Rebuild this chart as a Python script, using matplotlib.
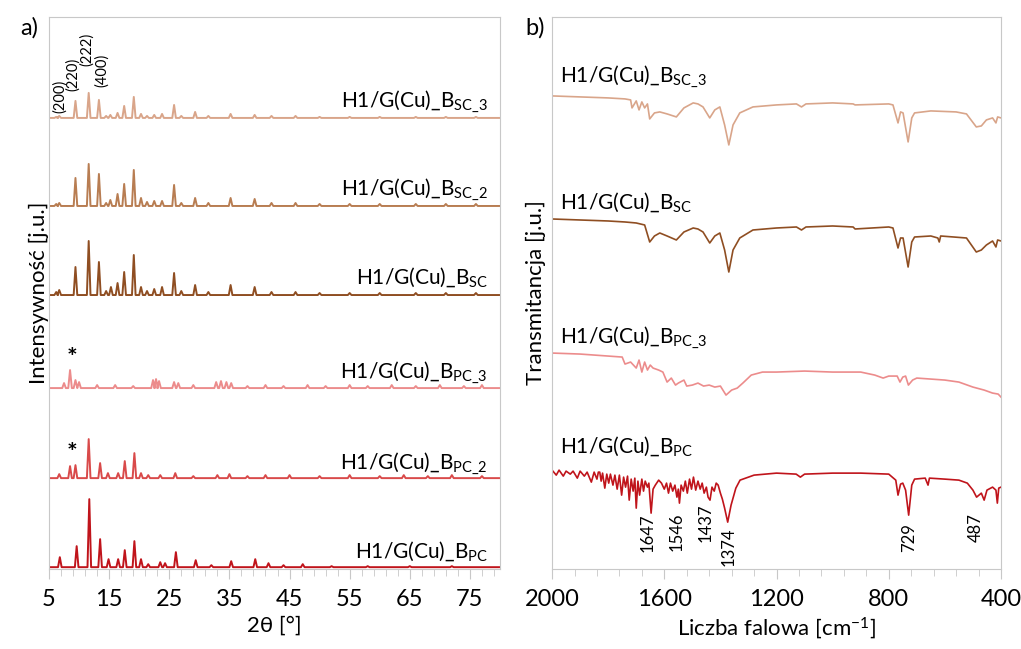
import matplotlib
matplotlib.use("Agg")
import matplotlib.pyplot as plt
from matplotlib.ticker import MultipleLocator, FixedLocator

plt.rcParams['font.family'] = ['Lato', 'DejaVu Sans']
plt.rcParams['mathtext.default'] = 'regular'

# ---------------- XRD (a) ----------------
# peak positions [2theta] and heights (arb. units)
sc3_pos = [6.2, 6.7, 9.4, 11.6, 13.3, 14.5, 15.2, 16.4, 17.5, 19.1, 20.3, 21.3, 22.5, 23.8, 25.8, 27.0,
           29.3, 31.5, 35.2, 39.2, 42.0, 46.0, 50.0, 55.0, 60.0, 66.0, 71.0, 76.0]
sc3_h = [1, 2, 17, 25, 18, 2, 3, 5, 12, 21, 4, 2, 3, 4, 13, 2,
         6, 2, 4, 3, 2, 2, 1, 1, 1, 1, 1, 1]

sc2_pos = [6.2, 6.7, 9.4, 11.6, 13.3, 14.5, 15.2, 16.4, 17.5, 19.1, 20.3, 21.3, 22.5, 23.8, 25.8, 27.0,
           29.3, 31.5, 35.2, 39.2, 42.0, 46.0, 50.0, 55.0, 60.0, 66.0, 71.0, 76.0]
sc2_h = [2, 3, 28, 42, 32, 3, 6, 12, 22, 36, 8, 4, 5, 5, 21, 3,
         8, 3, 8, 7, 3, 3, 2, 2, 2, 2, 2, 2]

sc_pos = [6.2, 6.7, 9.4, 11.6, 13.3, 14.5, 15.3, 16.4, 17.5, 19.1, 20.3, 21.3, 22.5, 23.8, 25.8, 27.0,
          29.3, 31.5, 35.2, 39.2, 42.0, 46.0, 50.0, 55.0, 60.0, 66.0, 71.0, 76.0]
sc_h = [3, 5, 28, 54, 33, 4, 8, 12, 23, 40, 8, 4, 6, 8, 22, 4,
        10, 3, 10, 8, 3, 3, 2, 2, 2, 2, 2, 2]

pc3_pos = [7.5, 8.5, 9.4, 10.0, 13.0, 16.0, 19.0, 22.3, 22.8, 23.3, 25.8, 26.5, 29.0, 32.8, 33.6, 34.5,
           35.3, 38.0, 41.0, 44.0, 48.0, 51.0, 55.0, 58.0, 62.0, 66.0, 70.0, 74.0, 77.0]
pc3_h = [5, 18, 8, 6, 3, 3, 2, 8, 9, 7, 6, 5, 3, 6, 7, 6,
         5, 2, 3, 2, 3, 2, 3, 2, 3, 2, 3, 2, 3]

pc2_pos = [6.7, 8.5, 9.4, 11.6, 13.5, 14.8, 16.5, 17.6, 19.2, 20.3, 21.5, 23.5, 26.0, 29.0, 33.0, 35.0,
           38.0, 41.0, 45.0, 50.0, 55.0, 60.0, 64.0, 68.0, 72.0, 77.0]
pc2_h = [4, 12, 13, 39, 15, 5, 5, 17, 25, 5, 3, 3, 5, 2, 3, 4,
         2, 3, 3, 2, 3, 2, 3, 2, 3, 2]

pc_pos = [6.8, 9.6, 11.7, 13.5, 14.9, 16.5, 17.6, 19.2, 20.3, 21.5, 23.5, 24.3, 26.1, 29.4, 32.0, 35.3,
          39.3, 41.5, 44.0, 47.2, 52.0, 58.0, 65.0, 72.0]
pc_h = [10, 21, 68, 28, 8, 8, 17, 26, 8, 3, 5, 4, 15, 7, 2, 6,
        8, 4, 2, 3, 1, 1, 1, 1]

xrd_offsets = [451, 363, 274, 181, 91, 2]
xrd_names = ['SC\\_3', 'SC\\_2', 'SC', 'PC\\_3', 'PC\\_2', 'PC']
xrd_colors = ['#d9a58a', '#b87d52', '#8f4e22', '#ec8c8c', '#d94a4a', '#c0141b']
xrd_label_y = [462, 374, 285, 191, 101, 11]

miller_labels = ['(200)', '(220)', '(222)', '(400)']
miller_x = [6.8, 9.0, 11.3, 13.8]
miller_y = [473, 495, 520, 499]

# ---------------- FTIR (b) ----------------
sc3_wn = [2000, 1900, 1800, 1740, 1720, 1715, 1700, 1690, 1680, 1670, 1660, 1652, 1635, 1616, 1590, 1557,
          1530, 1497, 1480, 1462, 1438, 1420, 1402, 1385, 1370, 1355, 1331, 1284, 1200, 1129, 1111, 1095,
          1000, 927, 920, 800, 785, 767, 758, 749, 731, 718, 708, 650, 560, 523, 488, 470, 452, 430, 418,
          412, 400]
sc3_t = [473, 472, 471, 470, 469, 461, 468, 459, 467, 461, 465, 450, 456, 457, 455, 452,
         461, 466, 465, 462, 451, 459, 462, 444, 424, 444, 456, 462, 464, 465, 462, 465,
         466, 465, 464, 465, 464, 446, 457, 456, 427, 451, 456, 458, 457, 455, 442, 443, 449, 451, 446,
         452, 451]

sc_wn = [2000, 1800, 1740, 1700, 1670, 1652, 1635, 1616, 1590, 1557, 1530, 1497, 1480, 1462, 1438, 1420,
         1402, 1385, 1370, 1355, 1331, 1284, 1200, 1129, 1111, 1095, 1000, 927, 920, 800, 785, 767, 758,
         749, 731, 718, 708, 650, 625, 620, 615, 523, 488, 470, 452, 430, 418, 412, 400]
sc_t = [350, 348, 347, 346, 344, 327, 333, 336, 333, 329, 337, 341, 340, 337, 326, 333,
        336, 319, 297, 319, 331, 339, 341, 342, 339, 342, 343, 342, 340, 342, 341, 321, 331,
        331, 302, 327, 332, 333, 331, 327, 333, 331, 317, 319, 324, 328, 322, 329, 328]

pc3_wn = [2000, 1900, 1800, 1750, 1740, 1720, 1700, 1690, 1680, 1670, 1660, 1650, 1640, 1620, 1605, 1590,
          1575, 1560, 1550, 1530, 1520, 1500, 1480, 1460, 1440, 1420, 1400, 1380, 1360, 1340, 1320, 1290,
          1250, 1200, 1100, 1000, 900, 850, 820, 800, 770, 760, 750, 740, 730, 715, 700, 600, 550, 500,
          460, 430, 410, 400]
pc3_t = [216, 215, 213, 212, 205, 207, 201, 209, 197, 207, 199, 204, 201, 199, 197, 187,
         191, 184, 186, 189, 183, 184, 186, 183, 184, 182, 183, 174, 179, 181, 186, 194,
         197, 197, 198, 197, 197, 194, 191, 193, 193, 187, 192, 193, 184, 189, 191, 189, 187, 182,
         179, 176, 175, 172]

pc_wn = [2000, 1985, 1975, 1960, 1950, 1935, 1925, 1910, 1900, 1885, 1875, 1860, 1850, 1840, 1835, 1830,
         1825, 1820, 1812, 1805, 1798, 1792, 1783, 1776, 1768, 1760, 1752, 1745, 1738, 1731, 1725, 1718,
         1711, 1705, 1700, 1694, 1688, 1680, 1674, 1668, 1660, 1655, 1647, 1640, 1632, 1620, 1610, 1600,
         1592, 1585, 1578, 1570, 1562, 1555, 1550, 1546, 1540, 1532, 1525, 1518, 1510, 1503, 1496, 1488,
         1480, 1472, 1465, 1458, 1450, 1444, 1437, 1430, 1422, 1415, 1408, 1400, 1393, 1385, 1374, 1362,
         1345, 1330, 1300, 1280, 1200, 1130, 1115, 1100, 1000, 900, 800, 775, 767, 758, 750, 740,
         729, 718, 708, 670, 660, 655, 600, 550, 520, 500, 487, 470, 460, 450, 430, 418,
         413, 408, 400]
pc_t = [99, 94, 99, 93, 98, 95, 98, 91, 98, 93, 97, 87, 97, 90, 97, 97,
        88, 96, 81, 95, 86, 95, 84, 94, 80, 94, 74, 92, 82, 93, 69, 90,
        78, 91, 61, 88, 74, 90, 78, 88, 82, 86, 56, 80, 84, 89, 86, 80,
        86, 76, 86, 78, 84, 72, 80, 66, 84, 78, 88, 76, 90, 80, 92, 79,
        88, 80, 86, 76, 82, 72, 69, 82, 78, 86, 84, 76, 70, 61, 47, 64,
        81, 89, 92, 94, 96, 95, 92, 95, 96, 96, 95, 89, 74, 85, 86, 79,
        54, 84, 90, 91, 84, 91, 90, 89, 86, 79, 72, 76, 69, 79, 82, 79,
        66, 81, 82]

ftir_wn = [sc3_wn, sc_wn, pc3_wn, pc_wn]
ftir_t = [sc3_t, sc_t, pc3_t, pc_t]
ftir_names = ['SC\\_3', 'SC', 'PC\\_3', 'PC']
ftir_colors = ['#d9a58a', '#8f4e22', '#ec8c8c', '#c0141b']
ftir_label_y = [487, 360, 226, 116]

band_labels = ['1647', '1546', '1437', '1374', '729', '487']
band_x = [1658, 1557, 1454, 1370, 728, 491]
band_y = [36, 37, 46, 22, 32, 42]


def peaks_to_line(pos, h, w=0.3):
    xs, ys = [5], [0]
    for p, hh in sorted(zip(pos, h)):
        xs += [p - w, p, p + w]
        ys += [0, hh, 0]
    xs.append(80)
    ys.append(0)
    return xs, ys


fig = plt.figure(figsize=(10.21, 6.49), dpi=100)
ax1 = fig.add_axes([0.048, 0.123, 0.4417, 0.851])
ax2 = fig.add_axes([0.5407, 0.123, 0.4397, 0.851])

xrd_pos = [sc3_pos, sc2_pos, sc_pos, pc3_pos, pc2_pos, pc_pos]
xrd_h = [sc3_h, sc2_h, sc_h, pc3_h, pc2_h, pc_h]
for pos, h, off, col, name, ly in zip(xrd_pos, xrd_h, xrd_offsets, xrd_colors, xrd_names, xrd_label_y):
    xs, ys = peaks_to_line(pos, h)
    ax1.plot(xs, [y + off for y in ys], color=col, lw=1.4)
    ax1.text(78.0, ly, 'H1/G(Cu)_B$_{' + name + '}$', ha='right', va='baseline', fontsize=15)

for lab, x, y in zip(miller_labels, miller_x, miller_y):
    ax1.text(x, y, lab, rotation=90, ha='center', va='center', fontsize=10.5)

ax1.text(8.8, 211, '*', ha='center', va='center', fontsize=18, fontweight='bold')
ax1.text(8.8, 116, '*', ha='center', va='center', fontsize=18, fontweight='bold')

ax1.set_xlim(5, 80)
ax1.set_ylim(0, 552)
ax1.xaxis.set_major_locator(FixedLocator([5, 15, 25, 35, 45, 55, 65, 75]))
ax1.xaxis.set_minor_locator(MultipleLocator(2, offset=1))
ax1.set_yticks([])
ax1.set_xlabel('2θ [°]', fontsize=16, labelpad=4)
ax1.set_ylabel('Intensywność [j.u.]', fontsize=16, labelpad=0)

for wn, t, col, name, ly in zip(ftir_wn, ftir_t, ftir_colors, ftir_names, ftir_label_y):
    ax2.plot(wn, t, color=col, lw=1.2)
    ax2.text(1971, ly, 'H1/G(Cu)_B$_{' + name + '}$', ha='left', va='baseline', fontsize=15)

for lab, x, y in zip(band_labels, band_x, band_y):
    ax2.text(x, y, lab, rotation=90, ha='center', va='center', fontsize=12)

ax2.set_xlim(2000, 400)
ax2.set_ylim(0, 552)
ax2.xaxis.set_major_locator(FixedLocator([2000, 1600, 1200, 800, 400]))
ax2.xaxis.set_minor_locator(MultipleLocator(80))
ax2.set_yticks([])
ax2.set_xlabel('Liczba falowa [cm$^{-1}$]', fontsize=16, labelpad=4)
ax2.set_ylabel('Transmitancja [j.u.]', fontsize=16, labelpad=4)

for ax in (ax1, ax2):
    for s in ax.spines.values():
        s.set_color('#c8c8c8')
    ax.tick_params(axis='x', which='both', direction='out', color='#c8c8c8', labelsize=17, pad=7)
    ax.tick_params(axis='x', which='major', length=7)
    ax.tick_params(axis='x', which='minor', length=5)

fig.text(0.029, 0.957, 'a)', fontsize=17, ha='center', va='center')
fig.text(0.524, 0.957, 'b)', fontsize=17, ha='center', va='center')

fig.savefig('out.png', dpi=100)
